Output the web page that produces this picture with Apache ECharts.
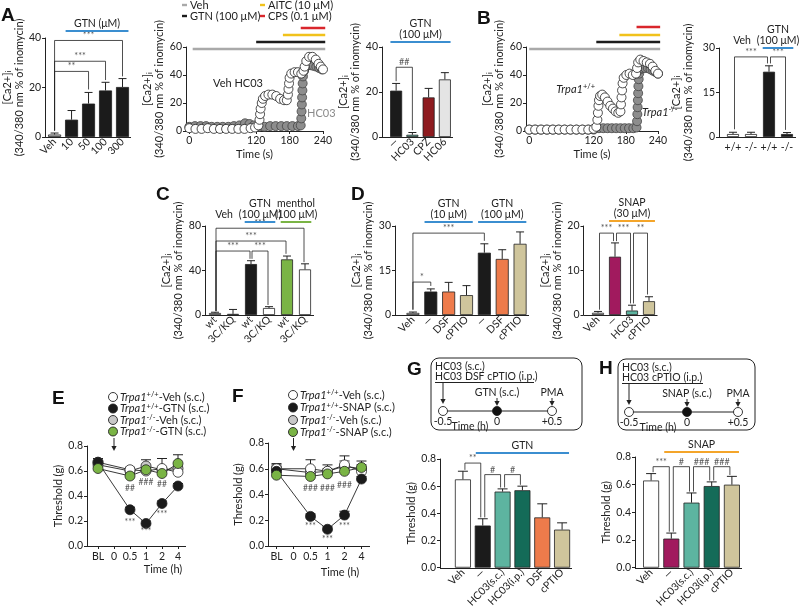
<!DOCTYPE html>
<html><head><meta charset="utf-8">
<script src="https://cdn.jsdelivr.net/npm/echarts@6/dist/echarts.min.js"></script>
<style>html,body{margin:0;padding:0;background:#fff}#c{width:800px;height:610px}</style>
</head><body><div id="c"></div>
<script>
// ================= DATA =================
// Panel A - dose response
const aDoseCats = ['Veh', '10', '50', '100', '300'];
const aDoseMean = [1.0, 7.0, 13.5, 18.8, 20.2];
const aDoseTop  = [1.6, 10.7, 18.0, 22.1, 23.6];
const aDoseBrackets = [[0, 2, 26.5, 2.6, 19.2], [0, 3, 30.6, 2.6, 23.0], [0, 4, 39, 2.6, 24.5]];
const aDoseBracketLabels = ['**', '***', '***'];
const aDoseHeaderSpans = [[1, 4]];
const aDoseHeaderTexts = ['GTN (μM)'];

// Panel A - time trace
const traceTicks = [0, 120, 180, 240];
const treatNames = ['Veh', 'GTN (100 μM)', 'AITC (10 μM)', 'CPS (0.1 μM)'];
const aTreatStart = [6, 120, 168, 200];
const bTreatStart = [0, 125, 168, 200];
const treatEnd = 244;
const aVehHcT = [0,11,22,33,44,55,66,77,88,99,110,118,124,126,127,128,130,132,136,142,149,156,163,170,175,177,178,179,180,183,189,195,201,205,207,210,215,221,227,232,236,240];
const aVehHcV = [2,1.5,1.5,2,1.5,1.5,1.5,1.5,1.5,1.5,2,2.5,4,8,12,16,20,23,25,26,26,25,23,22,22,26,30,34,38,41,42,42,41,43,46,50,53,53,51,48,46,44];
const aHcT = [0,10,20,30,40,50,60,70,80,90,100,108,116,125,135,145,155,165,175,185,195,200,201,201.5,202,202.5,203,203.5,204,206,209,213,218,223,228,233,238];
const aHcV = [3,3.5,3.5,3.5,3,3,3,3,3.5,4,5.5,5,4,3,3,3.5,3.5,3.5,3.5,3.5,3.5,4,9,14,19,24,29,34,39,43,46,47,47,46.5,46,45,44];

// Panel A - inhibitors
const aInhCats = ['—', 'HC03', 'CPZ', 'HC06'];
const aInhMean = [20.6, 1.0, 17.6, 25.6];
const aInhTop  = [23.8, 2.0, 21.6, 28.6];
const aInhBrackets = [[0, 1, 31, 24.8, 3.0]];
const aInhBracketLabels = ['##'];
const aInhHeaderSpans = [[0, 3]];
const aInhHeaderTexts = ['GTN\n(100 μM)'];

// Panel B - time trace
const bWtT = [0,11,22,33,44,55,66,77,88,99,110,120,125,127,128,129,130,132,136,141,146,151,156,161,166,170,171,172,173,174,176,181,187,193,199,201,203,207,213,219,225,230,235,240];
const bWtV = [1,1,1,1,1,1,1,1,1,1,1,1.5,3,8,13,18,22,25,26,24,21,18,16,14,13,14,19,24,29,34,38,40,41,40,41,45,49,51,50,49,48,46,43,41];
const bKoT = [0,11,22,33,44,55,66,77,88,99,110,120,130,138,146,154,162,170,178,186,194,200,201,201.5,202,202.5,203,203.5,204,205,207,211,216,221,226,231,236,240];
const bKoV = [1,1,1,1,1,1,1,1,1,1,1,1,2,2,2,2,2,2,2,2,2,2.5,7,12,17,22,27,32,37,41,44,45,45,45,44,43,42,41];

// Panel B - bars
const bCats = ['+/+', '-/-', '+/+', '-/-'];
const bMean = [1.0, 1.0, 22.0, 1.0];
const bTop  = [1.6, 1.6, 24.0, 1.5];
const bBrackets = [[0, 2, 27, 2.6, 24.8], [2, 3, 27, 24.8, 2.4]];
const bBracketLabels = ['***', '***'];
const bHeaderSpans = [[0, 1], [2, 3]];
const bHeaderTexts = ['Veh', 'GTN\n(100 μM)'];

// Panel C
const cCats = ['wt', '3C/KQ', 'wt', '3C/KQ', 'wt', '3C/KQ'];
const cMean = [1.8, 1.0, 45.8, 6.3, 50.0, 41.0];
const cTop  = [2.5, 5.0, 48.8, 7.5, 53.0, 46.0];
const cBrackets = [[0, 5, 78, 3.5, 47.5], [0, 4, 66.5, 3.5, 55], [0, 2, 57.5, 3.5, 50.5], [2, 3, 57.5, 50.5, 9]];
const cBracketLabels = ['***', '***', '***', '***'];
const cHeaderSpans = [[0, 1], [2, 3], [4, 5]];
const cHeaderTexts = ['Veh', 'GTN\n(100 μM)', 'menthol\n(100 μM)'];

// Panel D
const dCats = ['Veh', '—', 'DSF', 'cPTIO', '—', 'DSF', 'cPTIO'];
const dMean = [0.7, 7.9, 7.9, 6.7, 21.0, 18.9, 24.0];
const dTop  = [1.0, 8.8, 11.0, 9.9, 24.0, 22.0, 28.0];
const dBrackets = [[0, 4, 27.6, 1.8, 25], [0, 1, 11.1, 1.8, 9.8]];
const dBracketLabels = ['***', '*'];
const dHeaderSpans = [[1, 3], [4, 6]];
const dHeaderTexts = ['GTN\n(10 μM)', 'GTN\n(100 μM)'];

const d2Cats = ['Veh', '—', 'HC03', 'cPTIO'];
const d2Mean = [0.5, 13.1, 1.0, 3.1];
const d2Top  = [0.8, 16.2, 2.2, 4.1];
const d2Brackets = [[0, 1, 18.4, 1.2, 16.6], [1, 2, 18.4, 16.6, 2.6], [2, 3, 18.4, 2.6, 4.6]];
const d2BracketLabels = ['***', '***', '**'];
const d2HeaderSpans = [[1, 3]];
const d2HeaderTexts = ['SNAP\n(30 μM)'];

// Panel E
const eCats = ['BL', '0', '0.5', '1', '2', '4'];
const eWtVeh    = [0.67, null, 0.61, 0.60, 0.62, 0.59];
const eWtVehTop = [0.70, null, 0.63, 0.62, 0.70, 0.61];
const eWtGtn    = [0.67, null, 0.29, 0.18, 0.34, 0.48];
const eWtGtnTop = [0.70, null, 0.31, 0.20, 0.36, 0.50];
const eKoVeh    = [0.65, null, 0.60, 0.64, 0.61, 0.62];
const eKoVehTop = [0.68, null, 0.62, 0.69, 0.63, 0.64];
const eKoGtn    = [0.62, null, 0.56, 0.61, 0.58, 0.66];
const eKoGtnTop = [0.64, null, 0.58, 0.64, 0.60, 0.73];
const eNotes = [[2, 0.464], [3, 0.51], [4, 0.49], [2, 0.19], [3, 0.12], [4, 0.256]];
const eNoteLabels = ['##', '###', '##', '***', '***', '***'];
const eLegendGeno = ['+/+', '+/+', '-/-', '-/-'];
const eLegendTreat = ['Veh (s.c.)', 'GTN (s.c.)', 'Veh (s.c.)', 'GTN (s.c.)'];

// Panel F
const fWtVeh     = [0.60, null, 0.60, 0.58, 0.63, 0.58];
const fWtVehTop  = [0.64, null, 0.67, 0.60, 0.70, 0.60];
const fWtSnap    = [0.58, null, 0.23, 0.13, 0.24, 0.52];
const fWtSnapTop = [0.62, null, 0.25, 0.15, 0.27, 0.54];
const fKoVeh     = [0.60, null, 0.57, 0.58, 0.62, 0.60];
const fKoVehTop  = [0.63, null, 0.59, 0.63, 0.66, 0.66];
const fKoSnap    = [0.55, null, 0.54, 0.56, 0.58, 0.61];
const fKoSnapTop = [0.57, null, 0.56, 0.58, 0.60, 0.63];
const fNotes = [[2, 0.45], [3, 0.45], [4, 0.47], [2, 0.15], [3, 0.055], [4, 0.15]];
const fNoteLabels = ['###', '###', '###', '***', '***', '***'];
const fLegendTreat = ['Veh (s.c.)', 'SNAP (s.c.)', 'Veh (s.c.)', 'SNAP (s.c.)'];

// Panel G
const gCats = ['Veh', '—', 'HC03(s.c.)', 'HC03(i.p.)', 'DSF', 'cPTIO'];
const gMean = [0.65, 0.31, 0.56, 0.57, 0.37, 0.28];
const gTop  = [0.71, 0.36, 0.58, 0.60, 0.47, 0.33];
const gBrackets = [[0, 1, 0.77, 0.72, 0.37], [1, 2, 0.685, 0.37, 0.59], [2, 3, 0.685, 0.59, 0.61]];
const gBracketLabels = ['**', '#', '#'];
const gHeaderSpans = [[1, 5]];
const gHeaderTexts = ['GTN'];

// Panel H
const hCats = ['Veh', '—', 'HC03(s.c.)', 'HC03(i.p.)', 'cPTIO'];
const hMean = [0.63, 0.21, 0.47, 0.59, 0.60];
const hTop  = [0.68, 0.25, 0.54, 0.62, 0.66];
const hBrackets = [[0, 1, 0.73, 0.69, 0.26], [1, 2, 0.73, 0.26, 0.55], [2, 3, 0.73, 0.55, 0.63], [3, 4, 0.73, 0.63, 0.67]];
const hBracketLabels = ['***', '#', '###', '###'];
const hHeaderSpans = [[1, 4]];
const hHeaderTexts = ['SNAP'];

// ================= STYLE =================
const FF = 'Lato';
const INK = '#222';
const BLUE = '#3b8ed0', ORANGE_L = '#f4a52a', YELLOW = '#f1c21b', RED_L = '#d9262c', GREY_L = '#a9a9a9';
const BLACK = '#1b1b1b', WHITE = '#ffffff', VEHGREY = '#c6c6c6', TEAL_L = '#5db4a0', TEAL_D = '#146b58',
      DRED = '#8e1b1f', LGREY = '#e4e4e4', ORANGE = '#ee7b4b', BEIGE = '#cfc59c', GREEN = '#7ab445', MAGENTA = '#a11a5e';
const treatColors = [GREY_L, BLACK, YELLOW, RED_L];
const aDoseColors = [VEHGREY, BLACK, BLACK, BLACK, BLACK];
const aInhColors = [BLACK, TEAL_L, DRED, LGREY];
const bColors = [WHITE, WHITE, BLACK, BLACK];
const cColors = [WHITE, WHITE, BLACK, WHITE, GREEN, WHITE];
const cHeaderColors = [null, BLUE, GREEN];
const dColors = [WHITE, BLACK, ORANGE, BEIGE, BLACK, ORANGE, BEIGE];
const d2Colors = [LGREY, MAGENTA, TEAL_L, BEIGE];
const gColors = [WHITE, BLACK, TEAL_L, TEAL_D, ORANGE, BEIGE];
const hColors = [WHITE, MAGENTA, TEAL_L, TEAL_D, BEIGE];
const legendFills = [WHITE, BLACK, '#c8c8c8', GREEN];
const TICK_FS = 10.5, NAME_FS = 11;

function fnt(size, extra) { return (extra ? extra + ' ' : '') + size + 'px ' + FF; }

// ================= BUILDERS =================
const grids = [], xAxes = [], yAxes = [], series = [], gfx = [];
function addGrid(g) { grids.push(g); return grids.length - 1; }

function valY(gi, max, interval, offset, nameCfg, decimals) {
  return Object.assign({
    gridIndex: gi, type: 'value', min: 0, max: max, interval: interval, offset: offset,
    axisLine: { show: true, onZero: false, lineStyle: { color: INK, width: 1 } },
    axisTick: { show: true, length: 3, lineStyle: { color: INK } },
    axisLabel: { fontFamily: FF, fontSize: TICK_FS, color: INK, margin: 4,
      formatter: decimals ? (v => v.toFixed(decimals)) : (v => String(v)) },
    splitLine: { show: false }
  }, nameCfg || {});
}
function caName(gap) {
  return { name: '{t|[Ca2+]}{s|i}\n{t|(340/380 nm % of inomycin)}', nameLocation: 'middle', nameRotate: 90, nameGap: gap,
    nameTextStyle: { fontFamily: FF, fontSize: NAME_FS, color: INK, lineHeight: 12,
      rich: { t: { fontFamily: FF, fontSize: NAME_FS, color: INK, lineHeight: 12 },
              s: { fontFamily: FF, fontSize: 7.5, color: INK, lineHeight: 12, verticalAlign: 'bottom' } } } };
}
function thrName(gap) {
  return { name: 'Threshold (g)', nameLocation: 'middle', nameRotate: 90, nameGap: gap,
    nameTextStyle: { fontFamily: FF, fontSize: NAME_FS, color: INK } };
}
function catX(gi, cats, rotate, tick) {
  return { gridIndex: gi, type: 'category', data: cats,
    axisLine: { show: false },
    axisTick: tick ? { show: true, alignWithLabel: true, length: 3, lineStyle: { color: INK } } : { show: false },
    axisLabel: { fontFamily: FF, fontSize: TICK_FS, color: INK, rotate: rotate, interval: 0, margin: rotate ? 3 : 5 },
    splitLine: { show: false } };
}
function traceX(gi) {
  return { gridIndex: gi, type: 'value', min: -6, max: 240,
    axisLine: { show: true, onZero: false, lineStyle: { color: INK } },
    axisTick: { show: true, length: 3, customValues: traceTicks, lineStyle: { color: INK } },
    axisLabel: { fontFamily: FF, fontSize: TICK_FS, color: INK, margin: 4, customValues: traceTicks },
    splitLine: { show: false },
    name: 'Time (s)', nameLocation: 'middle', nameGap: 18, nameTextStyle: { fontFamily: FF, fontSize: NAME_FS, color: INK } };
}
function barSeries(gi, means, colors, width) {
  return { type: 'bar', xAxisIndex: gi, yAxisIndex: gi, barWidth: width, silent: true, z: 2,
    data: means.map((v, i) => ({ value: v, itemStyle: { color: colors[i] } })),
    itemStyle: { borderColor: INK, borderWidth: 0.8 } };
}
function errSeries(gi, means, tops, cap, z) {
  const data = [];
  means.forEach((m, i) => { if (m != null && tops[i] != null) data.push([i, m, tops[i]]); });
  return { type: 'custom', xAxisIndex: gi, yAxisIndex: gi, silent: true, z: z || 4, encode: { x: 0, y: [1, 2] }, data: data,
    renderItem: (p, api) => {
      const a = api.coord([api.value(0), api.value(1)]), b = api.coord([api.value(0), api.value(2)]);
      return { type: 'group', children: [
        { type: 'line', shape: { x1: a[0], y1: a[1], x2: b[0], y2: b[1] }, style: { stroke: INK, lineWidth: 1 } },
        { type: 'line', shape: { x1: b[0] - cap, y1: b[1], x2: b[0] + cap, y2: b[1] }, style: { stroke: INK, lineWidth: 1 } } ] };
    } };
}
function bracketSeries(gi, br, labels, inset) {
  return { type: 'custom', xAxisIndex: gi, yAxisIndex: gi, silent: true, z: 5, encode: { x: [0, 1], y: [2, 3, 4] }, data: br,
    renderItem: (p, api) => {
      const i = api.value(0), j = api.value(1), lv = api.value(2);
      const a = api.coord([i, api.value(3)]), t1 = api.coord([i, lv]), t2 = api.coord([j, lv]), b = api.coord([j, api.value(4)]);
      const x1 = t1[0] + inset, x2 = t2[0] - inset;
      return { type: 'group', children: [
        { type: 'polyline', shape: { points: [[x1, a[1]], [x1, t1[1]], [x2, t2[1]], [x2, b[1]]] }, style: { stroke: INK, lineWidth: 0.8, fill: null } },
        { type: 'text', style: { text: labels[p.dataIndex], x: (x1 + x2) / 2, y: t1[1] - 0.5, textAlign: 'center', textVerticalAlign: 'bottom', font: fnt(9), fill: '#555' } } ] };
    } };
}
function headerSeries(gi, spans, texts, colors, linePx) {
  return { type: 'custom', xAxisIndex: gi, yAxisIndex: gi, silent: true, z: 5, encode: { x: [0, 1], y: 2 },
    data: spans.map(s => [s[0], s[1], 0]),
    renderItem: (p, api) => {
      const c0 = api.coord([api.value(0), 0])[0], c1 = api.coord([api.value(1), 0])[0];
      const band = api.coord([1, 0])[0] - api.coord([0, 0])[0];
      const x0 = c0 - 0.35 * band, x1 = c1 + 0.35 * band;
      const ch = [{ type: 'text', style: { text: texts[p.dataIndex], x: (x0 + x1) / 2, y: linePx - 2.5, textAlign: 'center', textVerticalAlign: 'bottom', font: fnt(10.5), lineHeight: 10.5, fill: INK } }];
      const col = colors[p.dataIndex];
      if (col) ch.push({ type: 'line', shape: { x1: x0, y1: linePx, x2: x1, y2: linePx }, style: { stroke: col, lineWidth: 2 } });
      return { type: 'group', children: ch };
    } };
}
function treatSeries(gi, starts, end, colors, ys) {
  return { type: 'custom', xAxisIndex: gi, yAxisIndex: gi, silent: true, z: 5, encode: { x: [0, 1], y: 2 },
    data: starts.map(s => [s, end, 0]),
    renderItem: (p, api) => {
      const x0 = api.coord([api.value(0), 0])[0], x1 = api.coord([api.value(1), 0])[0], y = ys[p.dataIndex];
      return { type: 'line', shape: { x1: x0, y1: y, x2: x1, y2: y }, style: { stroke: colors[p.dataIndex], lineWidth: 2.5 } };
    } };
}
function baselineSeries(gi, off) {
  return { type: 'custom', xAxisIndex: gi, yAxisIndex: gi, silent: true, z: 6, encode: { x: 0, y: 1 }, data: [[0, 0]],
    renderItem: (p, api) => {
      const cs = p.coordSys, y = Math.round(api.coord([0, 0])[1]) + 0.5;
      return { type: 'line', shape: { x1: cs.x - off, y1: y, x2: cs.x + cs.width, y2: y }, style: { stroke: INK, lineWidth: 1 } };
    } };
}
function noteSeries(gi, notes, labels) {
  return { type: 'custom', xAxisIndex: gi, yAxisIndex: gi, silent: true, z: 5, encode: { x: 0, y: 1 }, data: notes,
    renderItem: (p, api) => {
      const c = api.coord([api.value(0), api.value(1)]);
      return { type: 'text', style: { text: labels[p.dataIndex], x: c[0], y: c[1], textAlign: 'center', textVerticalAlign: 'middle', font: fnt(8.5), fill: '#555' } };
    } };
}
function scatterSeries(gi, T, V, fill, border) {
  return { type: 'scatter', xAxisIndex: gi, yAxisIndex: gi, silent: true, symbol: 'circle', symbolSize: 9, z: 3,
    data: T.map((t, i) => [t, V[i]]), itemStyle: { color: fill, borderColor: border, borderWidth: 0.8, opacity: 1 } };
}
function lineSeries(gi, vals, fill) {
  return { type: 'line', xAxisIndex: gi, yAxisIndex: gi, silent: true, data: vals, connectNulls: true,
    symbol: 'circle', symbolSize: 10, showSymbol: true, z: 3,
    lineStyle: { color: INK, width: 0.9 }, itemStyle: { color: fill, borderColor: INK, borderWidth: 0.8 } };
}

// graphic helpers
function T(x, y, text, o) {
  gfx.push({ type: 'text', x: x, y: y, silent: true, style: Object.assign({ text: text, fill: INK, font: fnt(10.5), textAlign: 'left', textVerticalAlign: 'middle' }, o || {}) });
}
function L(x1, y1, x2, y2, color, w) {
  gfx.push({ type: 'line', silent: true, shape: { x1, y1, x2, y2 }, style: { stroke: color || INK, lineWidth: w || 1 } });
}
function arrow(x, y1, y2) {
  L(x, y1, x, y2 - 3);
  gfx.push({ type: 'polygon', silent: true, shape: { points: [[x - 2.6, y2 - 5], [x + 2.6, y2 - 5], [x, y2]] }, style: { fill: INK } });
}
function dot(x, y, r, fill) {
  gfx.push({ type: 'circle', silent: true, shape: { cx: x, cy: y, r: r }, style: { fill: fill, stroke: INK, lineWidth: 0.9 } });
}
function letter(ch, x, y) { T(x, y, ch, { font: 'bold 19px "Liberation Sans", Arial, sans-serif', textVerticalAlign: 'top', fill: '#111' }); }
const genoRich = {
  i: { fontFamily: FF, fontSize: 11, fontStyle: 'italic', color: INK, lineHeight: 12 },
  p: { fontFamily: FF, fontSize: 7.5, color: INK, lineHeight: 12, verticalAlign: 'top' },
  n: { fontFamily: FF, fontSize: 11, color: INK, lineHeight: 12 }
};

// ================= PANELS =================
let gi;
// A1 dose response
gi = addGrid({ left: 46, top: 38, width: 85, height: 99 });
xAxes.push(catX(gi, aDoseCats, 45));
yAxes.push(valY(gi, 40, 20, 1, caName(17)));
series.push(barSeries(gi, aDoseMean, aDoseColors, 13));
series.push(errSeries(gi, aDoseMean, aDoseTop, 4));
series.push(bracketSeries(gi, aDoseBrackets, aDoseBracketLabels, 0));
series.push(headerSeries(gi, aDoseHeaderSpans, aDoseHeaderTexts, [BLUE], 31));
series.push(baselineSeries(gi, 1));

// A2 trace
gi = addGrid({ left: 186, top: 47, width: 137, height: 84 });
xAxes.push(traceX(gi));
yAxes.push(valY(gi, 60, 20, 0, caName(16)));
series.push(scatterSeries(gi, aHcT, aHcV, '#8d8d8d', '#444'));
series.push(scatterSeries(gi, aVehHcT, aVehHcV, WHITE, INK));
series.push(treatSeries(gi, aTreatStart, treatEnd, treatColors, [49, 42, 35, 28]));

// A3 inhibitors
gi = addGrid({ left: 388, top: 47, width: 65, height: 90 });
xAxes.push(catX(gi, aInhCats, 45));
yAxes.push(valY(gi, 40, 20, 6, caName(15)));
series.push(barSeries(gi, aInhMean, aInhColors, 12));
series.push(errSeries(gi, aInhMean, aInhTop, 4));
series.push(bracketSeries(gi, aInhBrackets, aInhBracketLabels, 0));
series.push(headerSeries(gi, aInhHeaderSpans, aInhHeaderTexts, [BLUE], 42));
series.push(baselineSeries(gi, 6));

// B trace
gi = addGrid({ left: 526, top: 47, width: 132, height: 84 });
xAxes.push(traceX(gi));
yAxes.push(valY(gi, 60, 20, 0, caName(15)));
series.push(scatterSeries(gi, bKoT, bKoV, '#8d8d8d', '#444'));
series.push(scatterSeries(gi, bWtT, bWtV, WHITE, INK));
series.push(treatSeries(gi, bTreatStart, treatEnd, treatColors, [49, 42, 35, 27]));

// B bars
gi = addGrid({ left: 724, top: 48, width: 72, height: 89 });
xAxes.push(catX(gi, bCats, 0));
yAxes.push(valY(gi, 30, 15, 5, caName(25)));
series.push(barSeries(gi, bMean, bColors, 12));
series.push(errSeries(gi, bMean, bTop, 4));
series.push(bracketSeries(gi, bBrackets, bBracketLabels, 1.5));
series.push(headerSeries(gi, bHeaderSpans, bHeaderTexts, [null, BLUE], 48));
series.push(baselineSeries(gi, 5));

// C
gi = addGrid({ left: 206, top: 226, width: 108, height: 89 });
xAxes.push(catX(gi, cCats, 45));
yAxes.push(valY(gi, 80, 40, 1, caName(19)));
series.push(barSeries(gi, cMean, cColors, 12));
series.push(errSeries(gi, cMean, cTop, 4));
series.push(bracketSeries(gi, cBrackets, cBracketLabels, 1));
series.push(headerSeries(gi, cHeaderSpans, cHeaderTexts, cHeaderColors, 222));
series.push(baselineSeries(gi, 1));

// D1
gi = addGrid({ left: 404, top: 226, width: 125, height: 89 });
xAxes.push(catX(gi, dCats, 45));
yAxes.push(valY(gi, 30, 15, 9, caName(15)));
series.push(barSeries(gi, dMean, dColors, 13));
series.push(errSeries(gi, dMean, dTop, 4));
series.push(bracketSeries(gi, dBrackets, dBracketLabels, 0));
series.push(headerSeries(gi, dHeaderSpans, dHeaderTexts, [BLUE, BLUE], 222));
series.push(baselineSeries(gi, 9));

// D2
gi = addGrid({ left: 589.5, top: 226, width: 68, height: 89 });
xAxes.push(catX(gi, d2Cats, 45));
yAxes.push(valY(gi, 20, 10, 6, caName(19)));
series.push(barSeries(gi, d2Mean, d2Colors, 12));
series.push(errSeries(gi, d2Mean, d2Top, 4));
series.push(bracketSeries(gi, d2Brackets, d2BracketLabels, 1.5));
series.push(headerSeries(gi, d2HeaderSpans, d2HeaderTexts, [ORANGE_L], 221));
series.push(baselineSeries(gi, 6));

// E
gi = addGrid({ left: 90, top: 446, width: 96, height: 100 });
xAxes.push(catX(gi, eCats, 0, true));
yAxes.push(valY(gi, 0.8, 0.2, 3, thrName(22), 1));
[[eKoVeh, eKoVehTop], [eWtVeh, eWtVehTop], [eWtGtn, eWtGtnTop], [eKoGtn, eKoGtnTop]].forEach(s => series.push(errSeries(gi, s[0], s[1], 5, 1)));
series.push(lineSeries(gi, eKoVeh, '#c8c8c8'));
series.push(lineSeries(gi, eWtVeh, WHITE));
series.push(lineSeries(gi, eWtGtn, BLACK));
series.push(lineSeries(gi, eKoGtn, GREEN));
series.push(noteSeries(gi, eNotes, eNoteLabels));
series.push(baselineSeries(gi, 3));

// F
gi = addGrid({ left: 268, top: 443, width: 102, height: 103 });
xAxes.push(catX(gi, eCats, 0, true));
yAxes.push(valY(gi, 0.8, 0.2, 0, thrName(24), 1));
[[fKoVeh, fKoVehTop], [fWtVeh, fWtVehTop], [fWtSnap, fWtSnapTop], [fKoSnap, fKoSnapTop]].forEach(s => series.push(errSeries(gi, s[0], s[1], 5, 1)));
series.push(lineSeries(gi, fKoVeh, '#c8c8c8'));
series.push(lineSeries(gi, fWtVeh, WHITE));
series.push(lineSeries(gi, fWtSnap, BLACK));
series.push(lineSeries(gi, fKoSnap, GREEN));
series.push(noteSeries(gi, fNotes, fNoteLabels));
series.push(baselineSeries(gi, 0));

// G
gi = addGrid({ left: 453, top: 459, width: 119, height: 109 });
xAxes.push(catX(gi, gCats, 45));
yAxes.push(valY(gi, 0.8, 0.2, 13, thrName(20), 1));
series.push(barSeries(gi, gMean, gColors, 16));
series.push(errSeries(gi, gMean, gTop, 5));
series.push(bracketSeries(gi, gBrackets, gBracketLabels, 2));
series.push(headerSeries(gi, gHeaderSpans, gHeaderTexts, [BLUE], 453));
series.push(baselineSeries(gi, 13));

// H
gi = addGrid({ left: 641, top: 457, width: 101, height: 111 });
xAxes.push(catX(gi, hCats, 45));
yAxes.push(valY(gi, 0.8, 0.2, 6, thrName(22), 1));
series.push(barSeries(gi, hMean, hColors, 16));
series.push(errSeries(gi, hMean, hTop, 5));
series.push(bracketSeries(gi, hBrackets, hBracketLabels, 2));
series.push(headerSeries(gi, hHeaderSpans, hHeaderTexts, [ORANGE_L], 452));
series.push(baselineSeries(gi, 6));

// ================= GRAPHICS (labels, legends, schematics) =================
letter('A', 1, 6); letter('B', 477, 9); letter('C', 156, 185); letter('D', 351, 185);
letter('E', 52, 389); letter('F', 232, 387); letter('G', 407, 360); letter('H', 599, 359);

// treatment legend (top)
treatNames.forEach((n, k) => {
  const x = k < 2 ? 182 : 260, y = k % 2 === 0 ? 5 : 16;
  gfx.push({ type: 'rect', silent: true, shape: { x: x, y: y - 1.2, width: 5, height: 2.4 }, style: { fill: treatColors[k] } });
  T(x + 8, y, n, { font: fnt(11) });
});
T(238, 83, 'Veh HC03', { textAlign: 'center', font: fnt(11) });
T(307, 113, 'HC03', { fill: '#8a8a8a', font: fnt(11) });
T(595, 89, '{i|Trpa1}{p|+/+}', { textAlign: 'right', rich: genoRich });
T(642, 112, '{i|Trpa1}{p|-/-}', { rich: { i: Object.assign({}, genoRich.i, { color: '#8a8a8a' }), p: Object.assign({}, genoRich.p, { color: '#8a8a8a' }) } });

// E / F legends
function legend(x, ys, treats) {
  treats.forEach((t, k) => {
    dot(x, ys[k], 4.5, legendFills[k]);
    T(x + 7, ys[k], '{i|Trpa1}{p|' + eLegendGeno[k] + '}{n|-' + t + '}', { rich: genoRich });
  });
}
legend(113, [397, 408.5, 420, 431.5], eLegendTreat);
legend(293, [395, 407.5, 420, 432], fLegendTreat);
arrow(114, 438, 451);
arrow(293.5, 438, 451);
T(163, 569, 'Time (h)', { textAlign: 'center', font: fnt(11) });
T(340, 572, 'Time (h)', { textAlign: 'center', font: fnt(11) });

// G / H schematics
function schematic(x0, y0, w, h, line1, line2, ulEnd, xs, drug) {
  gfx.push({ type: 'rect', silent: true, shape: { x: x0, y: y0, width: w, height: h, r: 8 }, style: { fill: 'transparent', stroke: INK, lineWidth: 1 } });
  T(x0 + 4, y0 + 9, line1);
  T(x0 + 4, y0 + 19, line2);
  L(x0 + 4, y0 + 24.5, ulEnd, y0 + 24.5);
  arrow(xs[0], y0 + 25, y0 + 46);
  L(xs[0], y0 + 53, xs[2], y0 + 53);
  dot(xs[0], y0 + 53, 4.5, WHITE); dot(xs[1], y0 + 53, 4.5, '#111'); dot(xs[2], y0 + 53, 4.5, WHITE);
  T(xs[1], y0 + 35, drug, { textAlign: 'center' }); arrow(xs[1], y0 + 40, y0 + 48);
  T(xs[2], y0 + 35, 'PMA', { textAlign: 'center' }); arrow(xs[2], y0 + 40, y0 + 48);
  T(xs[0], y0 + 64, '-0.5', { textAlign: 'center' });
  T((xs[0] + xs[1]) / 2, y0 + 69, 'Time (h)', { textAlign: 'center' });
  T(xs[1], y0 + 64, '0', { textAlign: 'center' });
  T(xs[2], y0 + 64, '+0.5', { textAlign: 'center' });
}
schematic(431, 358, 151, 72, 'HC03 (s.c.)', 'HC03 DSF cPTIO (i.p.)', 534, [443, 497, 552], 'GTN (s.c.)');
schematic(618, 359, 137, 71, 'HC03 (s.c.)', 'HC03 cPTIO (i.p.)', 703, [629, 687, 738], 'SNAP (s.c.)');

// ================= RENDER =================
const chart = echarts.init(document.getElementById('c'), null, { renderer: 'canvas' });
chart.setOption({
  animation: false,
  backgroundColor: '#fff',
  textStyle: { fontFamily: FF },
  grid: grids, xAxis: xAxes, yAxis: yAxes, series: series,
  graphic: { elements: gfx }
});
</script></body></html>
